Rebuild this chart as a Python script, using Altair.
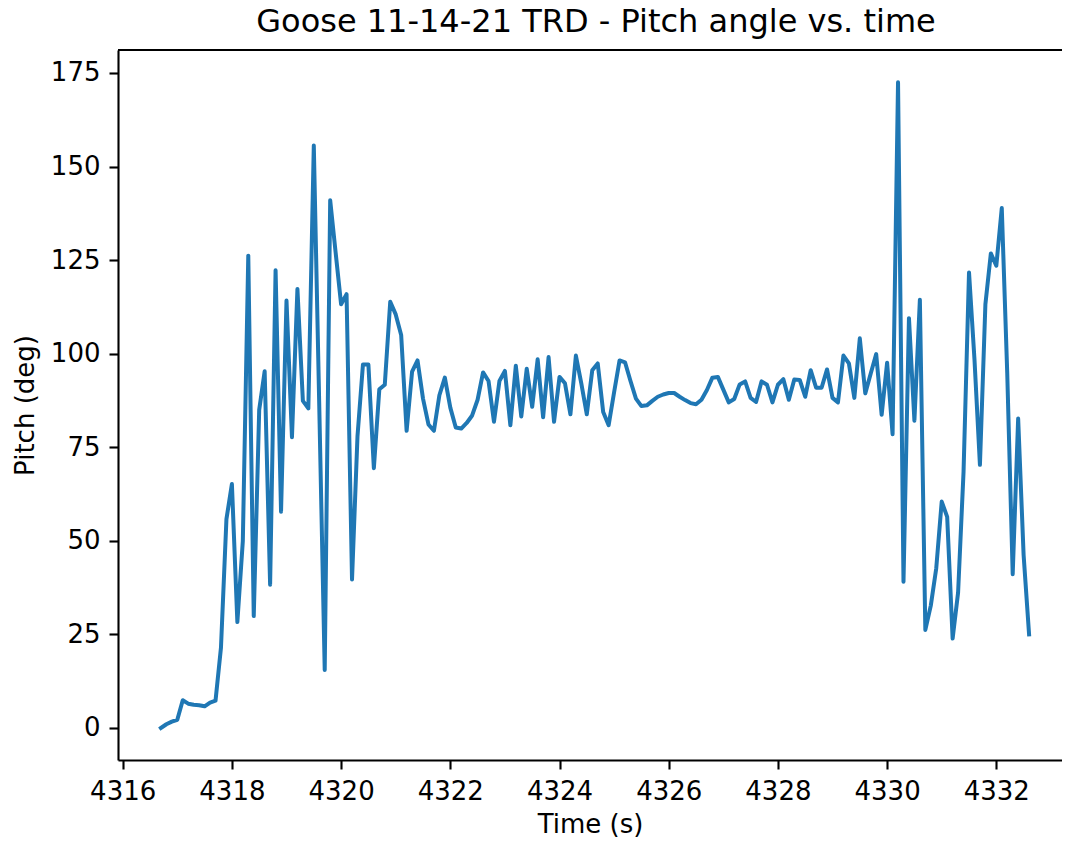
import altair as alt
import pandas as pd

time_s = [
    4316.7, 4316.8, 4316.9,
    4317.0, 4317.1, 4317.2, 4317.3, 4317.4, 4317.5, 4317.6, 4317.7, 4317.8, 4317.9,
    4318.0, 4318.1, 4318.2, 4318.3, 4318.4, 4318.5, 4318.6, 4318.7, 4318.8, 4318.9,
    4319.0, 4319.1, 4319.2, 4319.3, 4319.4, 4319.5, 4319.6, 4319.7, 4319.8, 4319.9,
    4320.0, 4320.1, 4320.2, 4320.3, 4320.4, 4320.5, 4320.6, 4320.7, 4320.8, 4320.9,
    4321.0, 4321.1, 4321.2, 4321.3, 4321.4, 4321.5, 4321.6, 4321.7, 4321.8, 4321.9,
    4322.0, 4322.1, 4322.2, 4322.3, 4322.4, 4322.5, 4322.6, 4322.7, 4322.8, 4322.9,
    4323.0, 4323.1, 4323.2, 4323.3, 4323.4, 4323.5, 4323.6, 4323.7, 4323.8, 4323.9,
    4324.0, 4324.1, 4324.2, 4324.3, 4324.4, 4324.5, 4324.6, 4324.7, 4324.8, 4324.9,
    4325.0, 4325.1, 4325.2, 4325.3, 4325.4, 4325.5, 4325.6, 4325.7, 4325.8, 4325.9,
    4326.0, 4326.1, 4326.2, 4326.3, 4326.4, 4326.5, 4326.6, 4326.7, 4326.8, 4326.9,
    4327.0, 4327.1, 4327.2, 4327.3, 4327.4, 4327.5, 4327.6, 4327.7, 4327.8, 4327.9,
    4328.0, 4328.1, 4328.2, 4328.3, 4328.4, 4328.5, 4328.6, 4328.7, 4328.8, 4328.9,
    4329.0, 4329.1, 4329.2, 4329.3, 4329.4, 4329.5, 4329.6, 4329.7, 4329.8, 4329.9,
    4330.0, 4330.1, 4330.2, 4330.3, 4330.4, 4330.5, 4330.6, 4330.7, 4330.8, 4330.9,
    4331.0, 4331.1, 4331.2, 4331.3, 4331.4, 4331.5, 4331.6, 4331.7, 4331.8, 4331.9,
    4332.0, 4332.1, 4332.2, 4332.3, 4332.4, 4332.5, 4332.6,
]

pitch_deg = [
    0.0, 1.0, 1.7, 2.2, 7.4, 6.5, 6.2, 6.1, 5.8, 6.8,
    7.3, 21.5, 55.8, 65.2, 28.3, 49.9, 126.2, 29.9, 85.0, 95.3,
    38.3, 122.3, 57.8, 114.2, 77.7, 117.3, 87.4, 85.4, 155.6, 86.0,
    15.5, 141.0, 127.0, 113.2, 115.9, 39.7, 77.9, 97.1, 97.1, 69.4,
    90.5, 91.7, 113.9, 110.5, 105.0, 79.4, 95.2, 98.2, 88.0, 81.1,
    79.4, 88.9, 93.6, 85.6, 80.3, 80.0, 81.5, 83.5, 87.7, 95.0,
    92.7, 81.8, 92.7, 95.4, 80.9, 96.8, 83.2, 96.0, 85.8, 98.5,
    83.0, 99.1, 81.8, 93.8, 92.1, 83.8, 99.5, 92.0, 83.8, 95.6,
    97.4, 84.4, 80.9, 89.7, 98.2, 97.7, 92.7, 88.0, 86.0, 86.2,
    87.4, 88.5, 89.1, 89.5, 89.5, 88.5, 87.6, 86.8, 86.5, 87.7,
    90.3, 93.6, 93.8, 90.4, 87.0, 87.9, 91.8, 92.6, 88.2, 87.1,
    92.6, 91.7, 87.0, 91.7, 93.2, 87.7, 93.1, 93.0, 88.5, 95.6,
    90.9, 90.9, 95.8, 88.2, 87.0, 99.5, 97.4, 88.2, 104.1, 89.4,
    94.7, 99.9, 83.7, 97.6, 78.5, 172.5, 39.1, 109.5, 82.1, 114.4,
    26.2, 32.7, 42.7, 60.5, 56.4, 23.9, 36.2, 68.5, 121.7, 98.5,
    70.3, 113.2, 126.8, 123.5, 138.9, 94.8, 41.1, 82.7, 46.2, 25.0,
]

x_ticks = [4316, 4318, 4320, 4322, 4324, 4326, 4328, 4330, 4332]
y_ticks = [0, 25, 50, 75, 100, 125, 150, 175]

df = pd.DataFrame({"time": time_s, "pitch": pitch_deg})

W, H = 944, 710
FONT = "DejaVu Sans"

line = alt.Chart(df).mark_line(
    color="#1f77b4", strokeWidth=4, strokeJoin="round", strokeCap="square"
).encode(
    x=alt.X(
        "time:Q",
        scale=alt.Scale(domain=[4315.914, 4333.203], nice=False, zero=False),
        axis=alt.Axis(values=x_ticks, format="d", title="Time (s)",
                      labelFlush=False, titlePadding=7),
    ),
    y=alt.Y(
        "pitch:Q",
        scale=alt.Scale(domain=[-8.55, 181.14], nice=False, zero=False),
        axis=alt.Axis(values=y_ticks, format="d", title="Pitch (deg)",
                      labelFlush=False, titlePadding=12),
    ),
)

top_spine = alt.Chart(pd.DataFrame({"a": [0]})).mark_rule(
    color="black", strokeWidth=2.1
).encode(x=alt.value(0), x2=alt.value(W), y=alt.value(0))

chart = alt.layer(line, top_spine).properties(
    width=W,
    height=H,
    title=alt.TitleParams(
        text="Goose 11-14-21 TRD - Pitch angle vs. time",
        font=FONT, fontSize=32, fontWeight="normal", color="black",
        offset=10, dx=6,
    ),
    padding={"left": 110, "top": 42, "right": 0, "bottom": 78},
    autosize=alt.AutoSizeParams(type="none"),
    background="white",
).configure_view(stroke=None).configure_axis(
    labelFont=FONT, labelFontSize=26, labelColor="black",
    titleFont=FONT, titleFontSize=26, titleFontWeight="normal", titleColor="black",
    domainColor="black", domainWidth=2.1, tickColor="black", tickWidth=2.1,
    tickSize=9, labelPadding=9, grid=False,
)

chart.save("out.html", embed_options={"renderer": "svg", "actions": False})
